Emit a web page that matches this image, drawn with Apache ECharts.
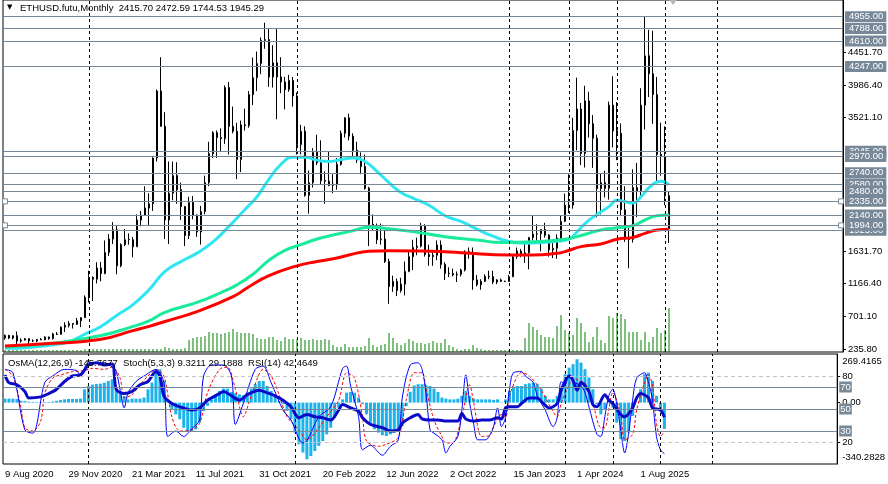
<!DOCTYPE html>
<html><head><meta charset="utf-8">
<script src="https://cdn.jsdelivr.net/npm/echarts@6/dist/echarts.min.js"></script>
<style>html,body{margin:0;padding:0;background:#fff}#c{width:888px;height:484px}</style>
</head><body><div id="c"></div>
<script>
// ---------- DATA ----------
// candles: [open, high, low, close]; bars 0..129 weekly (from 9 Aug 2020), then monthly
const candles = [
[395,445,370,433],[433,440,380,395],[395,435,375,428],[428,488,310,353],[353,390,330,366],
[366,395,360,385],[385,390,310,355],[355,375,340,353],[353,380,335,375],[375,395,365,369],
[369,420,365,410],[410,415,370,387],[387,470,375,453],[453,480,440,447],[447,560,445,550],
[550,620,480,575],[575,635,545,600],[600,605,530,590],[590,680,580,640],[640,690,550,685],
[685,1000,680,975],[975,1350,900,1255],[1255,1270,920,1230],[1230,1470,1170,1390],[1390,1475,1200,1310],
[1310,1780,1300,1610],[1610,1870,1560,1800],[1800,2040,1730,1930],[1930,2000,1300,1420],[1420,1740,1400,1720],
[1720,1940,1700,1790],[1790,1880,1720,1795],[1790,1830,1540,1690],[1690,2150,1690,2070],[2070,2200,1980,2140],
[2140,2550,2130,2240],[2240,2450,2000,2300],[2300,2960,2200,2950],[2950,3920,2900,3900],[3900,4380,3500,3400],
[3400,3600,1800,2070],[2070,2900,1730,2450],[2450,2900,2350,2700],[2700,2890,2300,2500],[2500,2600,2070,2260],
[2260,2270,1700,1850],[1850,2400,1800,2320],[2320,2410,2080,2140],[2140,2150,1830,1900],[1900,2270,1720,2190],
[2190,2700,2150,2600],[2600,3180,2550,3010],[3010,3330,2950,3310],[3310,3340,2950,3240],[3240,3370,3050,3225],
[3225,3980,3150,3950],[3950,4030,3000,3400],[3400,3680,3300,3330],[3330,3450,2650,2930],[2930,3480,2750,3420],
[3420,3650,3340,3410],[3410,3900,3380,3850],[3850,4375,3700,4090],[4090,4460,3900,4290],[4290,4660,4140,4620],
[4620,4870,4500,4630],[4630,4780,3960,4100],[4100,4550,3950,4300],[4300,4780,3500,4100],[4100,4380,3870,4030],
[4030,4100,3640,3920],[3920,4130,3890,4050],[4050,4100,3680,3830],[3830,3880,3000,3140],[3140,3420,3000,3330],
[3330,3400,2400,2420],[2420,2770,2160,2600],[2600,3090,2530,3030],[3030,3280,2850,2880],[2880,3200,2580,2630],
[2630,2760,2300,2620],[2620,3040,2550,2560],[2560,2720,2450,2580],[2580,2950,2500,2860],[2860,3340,2840,3300],
[3300,3530,3240,3520],[3520,3580,3200,3260],[3260,3300,2950,3060],[3060,3180,2880,2920],[2920,3030,2720,2830],
[2830,3000,2500,2520],[2520,2540,1700,2010],[2010,2150,1920,1975],[1975,2020,1730,1790],[1790,2020,1720,1800],
[1800,1920,1460,1480],[1480,1520,880,1125],[1125,1280,1050,1200],[1200,1240,990,1070],[1070,1250,1040,1160],
[1160,1480,1000,1340],[1340,1640,1330,1550],[1550,1790,1360,1680],[1680,1820,1570,1700],[1700,2030,1680,1980],
[1980,2010,1550,1580],[1580,1720,1420,1550],[1550,1620,1420,1570],[1570,1780,1500,1715],[1715,1780,1380,1440],
[1440,1470,1220,1310],[1310,1400,1260,1315],[1310,1380,1270,1290],[1290,1340,1190,1300],[1300,1380,1270,1360],
[1360,1640,1340,1620],[1620,1680,1520,1610],[1610,1680,1080,1220],[1220,1290,1130,1150],[1150,1230,1080,1200],
[1200,1300,1190,1270],[1270,1350,1230,1265],[1265,1350,1160,1190],[1190,1230,1160,1220],[1220,1240,1190,1200],
[1200,1210,1190,1196],[1196,1290,1190,1265],[1265,1560,1260,1550],[1550,1680,1520,1630],[1630,1660,1540,1585],
[1585,1740,1460,1605],[1605,1830,1370,1820],[1820,2140,1780,1870],[1870,2010,1740,1875],[1875,1940,1625,1935],
[1935,2030,1820,1855],[1855,1870,1550,1645],[1645,1750,1530,1670],[1670,1865,1520,1815],[1815,2135,1755,2050],
[2050,2445,2040,2280],[2280,2720,2170,2283],[2283,3520,2230,3340],[3340,4090,3060,3645],[3645,3730,2850,3015],
[3015,3975,2815,3760],[3760,3890,3240,3435],[3435,3560,2810,3230],[3230,3280,2110,2515],[2515,2730,2150,2600],
[2600,2770,2390,2520],[2520,3750,2360,3700],[3700,4110,3100,3335],[3335,3745,2920,3300],[3300,3440,2125,2215],
[2215,2550,1760,1820],[1820,1955,1385,1795],[1795,2790,1750,2530],[2530,2880,2110,2485],[2485,3940,2370,3700],
[3700,4955,3355,4400],[4400,4770,3815,4145],[4145,4755,3435,3850],[3850,4100,2620,3000],[3000,3450,2700,2970],
[2970,3400,2280,2416],[2415.70,2472.59,1744.53,1945.29]
];
// tick volume (relative units, read as bar height)
const volumes = [
2,2,2,2,2,2,2,2,2,2,2,2,2,2,2,2,2,2,2,2,
3,3,3,3,3,3,3,3,3,3,3,3,3,3,3,3,3,3,3,3,
5,4,3,3,3,4,12,14,15,15,16,20,19,19,18,19,20,23,20,19,
19,19,18,14,13,13,15,15,12,11,15,13,13,13,14,12,12,13,12,12,
13,12,7,5,5,8,5,5,5,5,6,14,7,5,7,8,19,14,9,7,
9,13,11,9,9,8,9,11,9,9,13,7,5,3,2,3,3,7,4,3,
2,2,2,2,2,2,2,2,2,2,14,29,25,22,17,15,15,14,26,37,
22,19,17,34,29,20,10,15,25,12,9,36,34,39,38,33,20,20,20,12,
20,10,15,24,19,22,44
];
// moving averages: [bar index, value]
const maFast = [[0,250],[6,262],[12,300],[16,340],[20,450],[24,560],[28,720],[32,870],[36,1080],[40,1340],[44,1480],[48,1600],[52,1760],[56,1980],[60,2220],[63,2400],[66,2650],[69,2860],[72,2960],[75,2960],[78,2920],[81,2900],[84,2930],[87,2950],[90,2900],[93,2760],[96,2600],[99,2460],[102,2380],[106,2280],[110,2130],[114,2050],[118,1940],[122,1840],[126,1765],[130,1740],[134,1750],[138,1770],[141,1800],[143,1900],[145,2020],[148,2150],[151,2260],[153,2350],[155,2330],[157,2310],[159,2400],[161,2530],[163,2610],[164,2620],[166,2570]];
const maMid = [[0,270],[12,320],[24,430],[32,560],[36,640],[40,760],[48,900],[54,1040],[58,1150],[62,1300],[66,1500],[70,1640],[74,1720],[78,1800],[82,1857],[86,1905],[91,1966],[96,1945],[102,1905],[110,1834],[118,1787],[124,1750],[132,1760],[140,1796],[144,1850],[149,1928],[153,1960],[157,1990],[160,2070],[163,2130],[166,2141]];
const maSlow = [[0,282],[12,320],[24,377],[32,500],[36,560],[40,630],[48,770],[57,982],[61,1124],[66,1280],[73,1420],[78,1480],[83,1530],[86,1574],[91,1628],[96,1635],[106,1626],[114,1607],[126,1574],[132,1574],[138,1597],[140,1621],[144,1692],[149,1730],[153,1796],[157,1824],[160,1881],[163,1928],[166,1938]];
// OsMA histogram per bar
const osma = [
22,22,22,20,10,8,5,4,3,2,3,4,6,10,15,18,20,20,20,22,
74,92,100,103,105,110,120,129,74,65,37,18,22,22,22,28,74,111,166,185,
120,18,-37,-65,-92,-139,-157,-157,-148,-111,-46,-18,18,46,65,78,78,59,52,46,
41,55,78,102,120,120,92,65,37,9,-9,-46,-92,-166,-231,-277,-314,-296,-268,-240,
-213,-176,-139,-74,-28,18,55,59,55,28,-9,-65,-111,-148,-166,-181,-185,-176,-166,-157,
-130,-20,60,95,102,102,96,92,78,59,28,22,18,18,22,37,65,37,22,18,
18,18,18,15,18,2,18,65,89,92,92,102,107,111,102,78,37,18,18,37,
83,157,194,213,240,222,185,139,74,-9,-65,-37,9,-28,-111,-203,-213,-166,-74,0,
74,157,166,120,37,-46,-145.7677
];
const stochMain = [[0,86],[2,83],[5,31],[7,28],[10,74],[12,80],[15,86],[18,85],[19,80],[21,92],[25,92],[27,88],[28,84],[29,67],[30,51],[31,65],[33,75],[35,80],[38,86],[40,74],[41,25],[43,30],[45,25],[47,32],[49,40],[50,80],[52,90],[55,90],[57,80],[58,36],[60,55],[63,86],[65,89],[67,74],[70,49],[72,40],[75,19],[76,21],[79,43],[82,52],[85,87],[86,89],[87,71],[89,43],[90,13],[92,17],[95,8],[97,16],[99,22],[100,60],[102,90],[104,92],[105,86],[106,64],[107,31],[108,28],[110,22],[111,10],[112,16],[114,25],[115,49],[116,81],[117,55],[118,36],[119,22],[121,22],[122,26],[123,34],[124,51],[125,34],[126,42],[127,68],[128,83],[130,84],[131,80],[133,74],[134,62],[136,49],[138,34],[139,42],[140,75],[141,72],[142,81],[143,75],[145,71],[146,65],[147,52],[149,27],[150,25],[151,43],[152,62],[153,68],[154,55],[155,31],[156,10],[157,28],[158,58],[159,78],[161,83],[162,74],[163,58],[164,25],[165,13],[166,9.3211]];
const stochSignal = [[0,86],[2,80],[4,52],[5,33],[7,30],[9,39],[10,64],[12,78],[15,82],[17,84],[20,85],[22,87],[25,86],[27,88],[29,78],[30,60],[32,63],[34,72],[36,80],[38,86],[40,80],[42,43],[44,30],[47,31],[49,37],[51,65],[54,86],[56,88],[58,68],[60,43],[62,62],[65,86],[67,80],[69,63],[71,43],[74,31],[76,22],[79,33],[81,43],[84,58],[86,83],[88,78],[90,43],[91,21],[94,16],[96,18],[99,24],[101,58],[103,83],[105,83],[106,68],[108,40],[110,25],[111,19],[113,20],[115,43],[117,72],[118,55],[120,25],[122,26],[123,34],[125,45],[126,42],[127,62],[129,80],[130,83],[132,80],[135,67],[137,54],[139,43],[140,55],[142,72],[143,78],[145,75],[146,74],[148,55],[150,33],[151,33],[152,50],[153,65],[155,45],[156,22],[158,27],[159,49],[161,74],[162,81],[163,71],[164,37],[165,25],[166,29.1888]];
const rsi = [[0,81],[1,74],[3,72],[5,66],[6,60],[9,61],[11,64],[13,68],[15,75],[17,80],[19,81],[21,90],[23,92],[25,90],[27,91],[28,68],[30,64],[32,66],[34,72],[36,75],[38,84],[39,80],[40,62],[42,55],[44,52],[47,49],[49,51],[51,58],[54,64],[55,66],[57,62],[59,58],[61,63],[64,67],[65,66],[68,62],[70,58],[72,52],[74,42],[76,45],[78,43],[80,42],[82,40],[84,49],[85,54],[87,51],[89,48],[90,42],[92,36],[95,33],[97,30],[99,31],[100,37],[102,42],[104,45],[105,41],[107,40],[109,40],[111,39],[114,39],[115,46],[116,41],[118,39],[120,40],[122,40],[124,42],[125,41],[126,51],[127,52],[129,52],[130,55],[132,60],[134,60],[135,57],[137,51],[139,55],[140,67],[142,80],[143,76],[144,67],[145,74],[147,66],[148,54],[149,52],[151,63],[152,58],[153,55],[155,45],[156,43],[158,51],[159,60],[160,64],[162,60],[163,51],[165,49],[166,42.4649]];
// horizontal price levels (boxes on the right), in drawing order
const priceLevels = [4955, 4788, 4610, 4247, 3045, 2970, 2740, 2580, 2480, 2335, 2140, 1925, 1994];
const handleLevels = [2335, 1994];
// price scale tick labels
const priceTicks = [4451.70, 3986.40, 3521.10, 1631.70, 1166.40, 701.10, 235.80];
// time axis labels: [bar index, text]
const timeLabels = [[0,'9 Aug 2020'],[16,'29 Nov 2020'],[32,'21 Mar 2021'],[48,'11 Jul 2021'],[64,'31 Oct 2021'],[80,'20 Feb 2022'],[96,'12 Jun 2022'],[112,'2 Oct 2022'],[128,'15 Jan 2023'],[144,'1 Apr 2024'],[160,'1 Aug 2025']];
// dashed vertical separators (bar index)
const separators = [21, 73, 126, 141, 153, 165, 178];
const osmaRange = [-340.2828, 269.4165];
const oscLevels = [70, 50, 30];
const oscDashed = [80, 20];
const headerText = 'ETHUSD.futu,Monthly  2415.70 2472.59 1744.53 1945.29';
const subHeaderText = 'OsMA(12,26,9) -145.7677  Stoch(5,3,3) 9.3211 29.1888  RSI(14) 42.4649';
const SLOTS = 210;

// ---------- CHART ----------
const F = 'Liberation Sans';
const FS = 9.5;
const categories = Array.from({length: SLOTS}, (_, i) => String(i));
const labelMap = {};
timeLabels.forEach(([i, t]) => labelMap[String(i)] = t);
const GRAY = '#778899';

const chart = echarts.init(document.getElementById('c'), null, {renderer: 'canvas'});
const sepLine = {
  silent: true, symbol: ['none', 'none'], animation: false,
  lineStyle: {color: '#000', type: [3, 3], width: 1},
  label: {show: false},
  data: separators.map(i => ({xAxis: String(i)}))
};
chart.setOption({
  animation: false,
  backgroundColor: '#fff',
  textStyle: {fontFamily: F},
  title: [
    {text: '▼', left: 7, top: 4, padding: 0, textStyle: {fontSize: 7, color: '#000', fontWeight: 'normal', fontFamily: 'DejaVu Sans'}},
    {text: headerText, left: 20, top: 3, padding: 0, textStyle: {fontSize: FS, color: '#000', fontWeight: 'normal', fontFamily: F}},
    {text: subHeaderText, left: 8, top: 358, padding: 0, textStyle: {fontSize: FS, color: '#000', fontWeight: 'normal', fontFamily: F}}
  ],
  grid: [
    {left: 3, right: 45, top: 0, height: 352, show: true, borderColor: '#000', borderWidth: 1, backgroundColor: '#fff'},
    {left: 3, right: 45, top: 354, height: 110, show: true, borderColor: '#000', borderWidth: 1, backgroundColor: '#fff'}
  ],
  xAxis: [
    {type: 'category', gridIndex: 0, data: categories, boundaryGap: true,
     axisLine: {show: false}, axisTick: {show: false}, axisLabel: {show: false}, splitLine: {show: false}},
    {type: 'category', gridIndex: 1, data: categories, boundaryGap: true,
     axisLine: {show: false}, axisTick: {show: false}, splitLine: {show: false},
     axisLabel: {show: true, interval: (idx, v) => labelMap[v] !== undefined, formatter: v => labelMap[v] || '',
       align: 'left', margin: 5, fontSize: FS, fontFamily: F, color: '#000'}}
  ],
  yAxis: [
    {type: 'value', gridIndex: 0, position: 'right', min: 197, max: 5192, splitLine: {show: false},
     axisLine: {show: true, lineStyle: {color: '#000'}},
     axisTick: {show: true, length: 3, lineStyle: {color: '#000'}, customValues: priceTicks},
     axisLabel: {customValues: priceTicks, formatter: v => v.toFixed(2), margin: 5, fontSize: FS, fontFamily: F, color: '#000'}},
    {type: 'value', gridIndex: 0, min: 0, max: 352, show: false},
    {type: 'value', gridIndex: 1, position: 'right', min: 0, max: 100, splitLine: {show: false},
     axisLine: {show: true, lineStyle: {color: '#000'}},
     axisTick: {show: true, length: 3, lineStyle: {color: '#000'}, customValues: oscDashed},
     axisLabel: {customValues: oscDashed, formatter: v => String(v), margin: 5, fontSize: FS, fontFamily: F, color: '#000'}},
    {type: 'value', gridIndex: 1, position: 'right', min: osmaRange[0], max: osmaRange[1], splitLine: {show: false},
     axisLine: {show: false},
     axisTick: {show: true, length: 3, lineStyle: {color: '#000'}, customValues: [0]},
     axisLabel: {customValues: [osmaRange[1], 0, osmaRange[0]], margin: 5, fontSize: FS, fontFamily: F, color: '#000',
       formatter: v => v > 100 ? '{t|' + v.toFixed(4) + '}' : (v < -100 ? '{b|' + v.toFixed(4) + '}' : '0.00'),
       rich: {t: {padding: [15, 0, 0, 0], fontSize: FS, fontFamily: F, color: '#000'},
              b: {padding: [0, 0, 13, 0], fontSize: FS, fontFamily: F, color: '#000'}}}}
  ],
  series: [
    {type: 'bar', name: 'volume', xAxisIndex: 0, yAxisIndex: 1, data: volumes, barWidth: 1,
     itemStyle: {color: '#008000'}, z: 1, silent: true,
     markLine: sepLine},
    {type: 'candlestick', name: 'ETHUSD', xAxisIndex: 0, yAxisIndex: 0, barWidth: 2,
     data: candles.map(c => [c[0], c[3], c[2], c[1]]),
     itemStyle: {color: '#fff', color0: '#000', borderColor: '#000', borderColor0: '#000', borderWidth: 1},
     z: 3,
     markLine: {
       silent: true, symbol: ['none', 'none'], animation: false,
       lineStyle: {color: GRAY, width: 1, type: 'solid'},
       label: {show: true, position: 'end', distance: 2, formatter: p => Number(p.value).toFixed(2),
         color: '#fff', backgroundColor: GRAY, padding: [1, 3, 0, 4], fontSize: FS, fontFamily: F},
       data: priceLevels.map(v => ({yAxis: v}))
     },
     markPoint: {
       silent: true, animation: false, label: {show: false},
       data: handleLevels.flatMap(v => [
         {coord: ['0', v], symbol: 'rect', symbolSize: 5, itemStyle: {color: '#fff', borderColor: GRAY, borderWidth: 1}},
         {coord: ['209', v], symbol: 'rect', symbolSize: 5, itemStyle: {color: '#fff', borderColor: GRAY, borderWidth: 1}}
       ]).concat([{coord: ['167', 5165], symbol: 'triangle', symbolRotate: 180, symbolSize: [9, 6], itemStyle: {color: '#b8b8b8'}}])
     }},
    {type: 'line', name: 'MA fast', xAxisIndex: 0, yAxisIndex: 0, data: maFast, smooth: true, showSymbol: false,
     lineStyle: {color: '#2ee6f2', width: 3}, z: 4, silent: true},
    {type: 'line', name: 'MA mid', xAxisIndex: 0, yAxisIndex: 0, data: maMid, smooth: true, showSymbol: false,
     lineStyle: {color: '#18ec9c', width: 3}, z: 4, silent: true},
    {type: 'line', name: 'MA slow', xAxisIndex: 0, yAxisIndex: 0, data: maSlow, smooth: true, showSymbol: false,
     lineStyle: {color: '#ff0000', width: 3}, z: 4, silent: true},
    // sub window
    {type: 'bar', name: 'OsMA', xAxisIndex: 1, yAxisIndex: 3, data: osma, barWidth: 3,
     itemStyle: {color: '#1cb2ea'}, z: 2, silent: true,
     markLine: sepLine},
    {type: 'line', name: 'Stoch signal', xAxisIndex: 1, yAxisIndex: 2, data: stochSignal, smooth: 0.3, showSymbol: false,
     lineStyle: {color: '#ff0000', width: 1, type: [3, 2]}, z: 3, silent: true,
     markLine: {
       silent: true, symbol: ['none', 'none'], animation: false,
       lineStyle: {color: '#c4c4c4', width: 1, type: [4, 3]},
       label: {show: false},
       data: oscDashed.map(v => ({yAxis: v}))
     }},
    {type: 'line', name: 'Stoch main', xAxisIndex: 1, yAxisIndex: 2, data: stochMain, smooth: 0.3, showSymbol: false,
     lineStyle: {color: '#0000ff', width: 1}, z: 3, silent: true,
     markLine: {
       silent: true, symbol: ['none', 'none'], animation: false,
       lineStyle: {color: GRAY, width: 1, type: 'solid'},
       label: {show: true, position: 'end', distance: 2, formatter: p => String(p.value),
         color: '#fff', backgroundColor: GRAY, padding: [1, 1, 0, 1], fontSize: FS, fontFamily: F},
       data: oscLevels.map(v => ({yAxis: v}))
     }},
    {type: 'line', name: 'RSI', xAxisIndex: 1, yAxisIndex: 2, data: rsi, smooth: 0.3, showSymbol: false,
     lineStyle: {color: '#0a0ac8', width: 3}, z: 4, silent: true}
  ]
});
</script></body></html>
